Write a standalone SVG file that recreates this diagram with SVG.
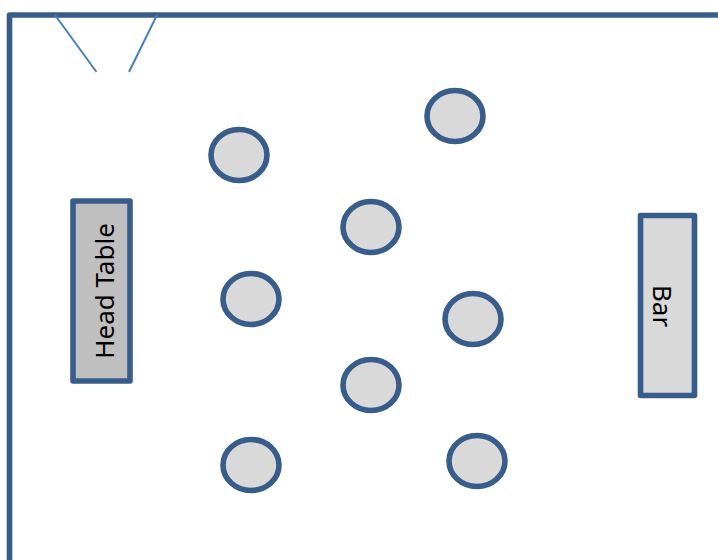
<svg xmlns="http://www.w3.org/2000/svg" width="718" height="560" viewBox="0 0 718 560">
<style>
.o{stroke:#385d8a;stroke-width:5.600;stroke-linejoin:round}
.t{fill:#d9d9d9}
.d{fill:none;stroke:#4a7ebb;stroke-width:2}
text{font-family:"Noto Sans","Liberation Sans",sans-serif;font-size:26px;fill:#000;text-anchor:middle}
</style>
<rect width="718" height="560" fill="#fff"/>
<path id="walls" d="M718 15H9.500V560" fill="none" class="o"/>
<g id="door"><path class="d" d="M55 15L96.500 72"/><path class="d" d="M157 15L129 72"/></g>
<g id="head-table"><rect class="o" x="73" y="201" width="57" height="180" fill="#bfbfbf"/><text transform="translate(114 291) rotate(-90)">Head Table</text></g>
<g id="bar"><rect class="o" x="640.500" y="215.500" width="54" height="180" fill="#d9d9d9"/><text transform="translate(652.500 306) rotate(90)">Bar</text></g>
<g id="table-1"><ellipse class="o t" cx="239" cy="155" rx="28" ry="25.500"/></g>
<g id="table-2"><ellipse class="o t" cx="455" cy="116" rx="28" ry="25.500"/></g>
<g id="table-3"><ellipse class="o t" cx="371" cy="227" rx="28" ry="25.500"/></g>
<g id="table-4"><ellipse class="o t" cx="251" cy="299" rx="28" ry="25.500"/></g>
<g id="table-5"><ellipse class="o t" cx="473" cy="319" rx="28" ry="25.500"/></g>
<g id="table-6"><ellipse class="o t" cx="371" cy="385" rx="28" ry="25.500"/></g>
<g id="table-7"><ellipse class="o t" cx="251" cy="465" rx="28" ry="25.500"/></g>
<g id="table-8"><ellipse class="o t" cx="477" cy="461" rx="28" ry="25.500"/></g>
</svg>
